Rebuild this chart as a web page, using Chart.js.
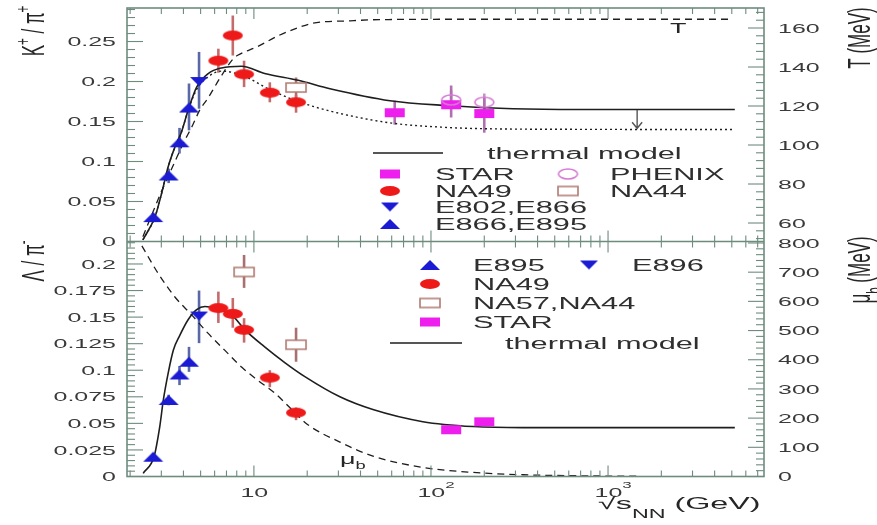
<!DOCTYPE html>
<html>
<head>
<meta charset="utf-8">
<title>K+/pi+ and Lambda/pi- vs sqrt(s_NN)</title>
<script src="https://cdn.jsdelivr.net/npm/chart.js@4.4.1/dist/chart.umd.min.js"></script>
<style>
  html, body { margin: 0; padding: 0; background: #fff; }
  canvas { display: block; }
</style>
</head>
<body>
<canvas id="chart" width="877" height="525"></canvas>
<script>
// ---- energies (sqrt(s_NN), GeV) ----
const agsS = [2.7, 3.3, 3.8, 4.3];
const agsTopS = [4.9];
const spsS = [6.3, 7.6, 8.8, 12.3, 17.3];
const na44S = [17.3];
const starKS = [62.4, 130, 200];
const phenixS = [130, 200];
const na57S = [8.8, 17.3];
const starLS = [130, 200];

// ---- upper panel: K+/pi+ ----
const kpiE866E895 = [0.0305, 0.0825, 0.124, 0.1675];
const kpiE866E895Lo = [0.026, 0.073, 0.110, 0.139];
const kpiE866E895Hi = [0.035, 0.091, 0.142, 0.1975];
const kpiE802E866 = [0.2];
const kpiE802E866Lo = [0.166];
const kpiE802E866Hi = [0.237];
const kpiNA49 = [0.226, 0.2575, 0.209, 0.186, 0.174];
const kpiNA49Lo = [0.211, 0.2325, 0.193, 0.174, 0.161];
const kpiNA49Hi = [0.241, 0.2825, 0.226, 0.199, 0.183];
const kpiNA44 = [0.1925];
const kpiNA44Lo = [0.18];
const kpiNA44Hi = [0.205];
const kpiSTAR = [0.161, 0.171, 0.16];
const kpiSTARLo = [0.146, 0.155, 0.136];
const kpiSTARHi = [0.176, 0.195, 0.18];
const kpiPHENIX = [0.177, 0.174];
const kpiPHENIXLo = [0.165, 0.163];
const kpiPHENIXHi = [0.189, 0.185];

// thermal model curves, upper panel
const kpiModelS = [2.36, 2.76, 3.01, 3.28, 3.58, 3.9, 4.25, 4.75, 5.52, 6.57, 8.52, 11.5, 17.8, 26.9, 58.7, 123, 290, 695, 5200];
const kpiModel = [0.002, 0.0305, 0.06, 0.0935, 0.118, 0.137, 0.164, 0.193, 0.21, 0.217, 0.219, 0.21, 0.2015, 0.191, 0.176, 0.17, 0.166, 0.165, 0.165];
const kpiAltS = [2.36, 2.76, 3.01, 3.28, 3.58, 3.9, 4.25, 4.75, 5.52, 6.57, 8.6, 12.3, 17.3, 27, 60, 125, 200, 500, 5200];
const kpiAlt = [0.002, 0.0305, 0.06, 0.0935, 0.118, 0.137, 0.164, 0.19, 0.206, 0.213, 0.2075, 0.19, 0.176, 0.163, 0.148, 0.1425, 0.141, 0.1403, 0.14];
const tempS = [2.36, 2.7, 3.0, 3.25, 3.6, 4.0, 4.5, 4.95, 5.5, 6.5, 7.6, 8.1, 10.5, 13.7, 18.2, 21.6, 35, 51, 200, 5000];
const tempMeV = [53, 66, 76, 83, 92, 101, 110, 118, 124, 135, 144, 146, 150.5, 156, 160.5, 162.5, 163.7, 164.3, 164.5, 164.5];
const lhcArrowS = [1460];
const lhcArrowK = [0.1645, 0.1415];

// ---- lower panel: Lambda/pi- ----
const lpiE895 = [0.0186, 0.072, 0.096, 0.108];
const lpiE895Lo = [0.0155, 0.067, 0.086, 0.0985];
const lpiE895Hi = [0.022, 0.077, 0.104, 0.122];
const lpiE896 = [0.151];
const lpiE896Lo = [0.1255];
const lpiE896Hi = [0.175];
const lpiNA49 = [0.1585, 0.153, 0.138, 0.093, 0.06];
const lpiNA49Lo = [0.1445, 0.14, 0.126, 0.084, 0.053];
const lpiNA49Hi = [0.174, 0.168, 0.149, 0.1, 0.065];
const lpiNA57 = [0.1925, 0.124];
const lpiNA57Lo = [0.1775, 0.108];
const lpiNA57Hi = [0.2085, 0.14];
const lpiSTAR = [0.044, 0.0515];

const lpiModelS = [2.37, 2.73, 2.94, 3.08, 3.28, 3.51, 3.82, 4.25, 4.75, 5.29, 6.02, 7.48, 8.9, 11.5, 15, 19.4, 30.6, 47, 90, 173, 331, 1170, 5200];
const lpiModel = [0.003, 0.0188, 0.047, 0.072, 0.0973, 0.119, 0.133, 0.1475, 0.157, 0.16, 0.1585, 0.152, 0.138, 0.122, 0.107, 0.094, 0.075, 0.063, 0.0516, 0.047, 0.046, 0.046, 0.046];
const muS = [2.33, 2.87, 3.58, 4.46, 5.5, 6.86, 8.55, 10.5, 13.1, 16.2, 19.9, 30.6, 47, 90, 173, 331, 800, 1500];
const muMeV = [790, 697, 615, 553, 491, 432, 374, 330, 286, 232, 180, 118, 70, 31, 14, 6, 2, 1];

// ---- axis ticks ----
const kpiTicks = [0, 0.05, 0.1, 0.15, 0.2, 0.25];
const kpiTickLabels = ['0', '0.05', '0.1', '0.15', '0.2', '0.25'];
const lpiTicks = [0, 0.025, 0.05, 0.075, 0.1, 0.125, 0.15, 0.175, 0.2];
const lpiTickLabels = ['0', '0.025', '0.05', '0.075', '0.1', '0.125', '0.15', '0.175', '0.2'];
const tempTicks = [60, 80, 100, 120, 140, 160];
const muTicks = [0, 100, 200, 300, 400, 500, 600, 700, 800];
const xTicks = [10, 100, 1000];
const xTickExp = ['', '2', '3'];

const FONT = '"Liberation Sans", Arial, Helvetica, sans-serif';
const SX = 1.92;
const FRAME = '#6e8c7e';
const BLUE = '#1b1bd4', RED = '#ee1a1a', MAG = '#ee1eee';

function marker(kind, w, h, fill, stroke) {
    const c = document.createElement('canvas');
    c.width = w + 4;
    c.height = h + 4;
    const g = c.getContext('2d');
    g.translate(2, 2);
    g.beginPath();
    if (kind === 'up') { g.moveTo(0, h); g.lineTo(w / 2, 0); g.lineTo(w, h); g.closePath(); }
    else if (kind === 'down') { g.moveTo(0, 0); g.lineTo(w, 0); g.lineTo(w / 2, h); g.closePath(); }
    else if (kind === 'ellipse') g.ellipse(w / 2, h / 2, w / 2, h / 2, 0, 0, Math.PI * 2);
    else g.rect(0, 0, w, h);
    if (fill) { g.fillStyle = fill; g.fill(); }
    if (stroke) { g.lineWidth = 1.6; g.strokeStyle = stroke; g.stroke(); }
    return c;
}

const mUp = marker('up', 20, 10, BLUE);
const mDown = marker('down', 18, 9, BLUE);
const mCircle = marker('ellipse', 20, 10, RED);
const mStar = marker('rect', 20, 9, MAG);
const mOpenSq = marker('rect', 20, 9, '#fff', '#b07a70');
const mOpenCirc = marker('ellipse', 19, 10, null, '#d47ad4');

function pts(xs, ys) {
    return xs.map((x, i) => ({ x: x, y: ys[i] }));
}

function scatter(label, xs, ys, axis, img, lo, hi, barColor) {
    return {
        label: label, data: pts(xs, ys), xAxisID: 'x', yAxisID: axis,
        showLine: false, pointStyle: img, pointRadius: 5,
        errLo: lo, errHi: hi, barColor: barColor
    };
}

function curve(label, xs, ys, axis, dash, width) {
    return {
        label: label, data: pts(xs, ys), xAxisID: 'x', yAxisID: axis,
        borderColor: '#1e1e1e', borderWidth: width, borderDash: dash,
        pointRadius: 0, cubicInterpolationMode: 'monotone', fill: false
    };
}

// draws text with horizontal stretch; y is the middle of the capitals
function drawRich(ctx, parts, x, y, o) {
    ctx.save();
    ctx.translate(x, y);
    if (o.rot) ctx.rotate(o.rot);
    ctx.scale(o.sx || 1, o.sy || 1);
    ctx.fillStyle = o.color || '#2f2f2f';
    ctx.textBaseline = 'alphabetic';
    ctx.textAlign = 'left';
    const small = o.small || 0.68;
    let w = 0;
    const segs = parts.map(p => {
        const size = p[1] ? o.size * small : o.size;
        ctx.font = size + 'px ' + FONT;
        const sw = ctx.measureText(p[0]).width;
        const dy = p[1] === 'sup' ? -o.size * (o.supUp || 0.45) : p[1] === 'sub' ? o.size * (o.subDown || 0.4) : 0;
        w += sw;
        return { t: p[0], size: size, w: sw, dy: dy };
    });
    let cx = o.align === 'center' ? -w / 2 : o.align === 'right' ? -w : 0;
    const base = o.size * 0.36;
    segs.forEach(s => {
        ctx.font = s.size + 'px ' + FONT;
        ctx.fillText(s.t, cx, base + s.dy);
        cx += s.w;
    });
    ctx.restore();
}

function yTicks(ctx, scale, from, to, step, every, x0, dir) {
    const n = Math.round((to - from) / step);
    const k0 = Math.round(from / step);
    for (let i = 0; i <= n; i++) {
        const py = scale.getPixelForValue(from + i * step);
        const len = (k0 + i) % every === 0 ? 16 : 8;
        ctx.beginPath();
        ctx.moveTo(x0, py);
        ctx.lineTo(x0 + dir * len, py);
        ctx.stroke();
    }
}

const errorBars = {
    id: 'errorBars',
    beforeDatasetsDraw(chart) {
        const ctx = chart.ctx;
        const xs = chart.scales.x;
        chart.data.datasets.forEach(ds => {
            if (!ds.errLo) return;
            const ys = chart.scales[ds.yAxisID];
            ctx.save();
            ctx.strokeStyle = ds.barColor;
            ctx.lineWidth = 2.6;
            ds.data.forEach((p, i) => {
                const px = xs.getPixelForValue(p.x);
                ctx.beginPath();
                ctx.moveTo(px, ys.getPixelForValue(ds.errLo[i]));
                ctx.lineTo(px, ys.getPixelForValue(ds.errHi[i]));
                ctx.stroke();
            });
            ctx.restore();
        });
    }
};

function legendLine(ctx, x1, x2, y) {
    ctx.save();
    ctx.strokeStyle = '#1e1e1e';
    ctx.lineWidth = 1.6;
    ctx.beginPath();
    ctx.moveTo(x1, y);
    ctx.lineTo(x2, y);
    ctx.stroke();
    ctx.restore();
}

function legendItem(ctx, img, mx, my, text, tx) {
    ctx.drawImage(img, mx - img.width / 2, my - img.height / 2);
    drawRich(ctx, [[text]], tx, my, { size: 16, sx: SX });
}

const frameAndText = {
    id: 'frameAndText',
    afterDatasetsDraw(chart) {
        const { ctx, chartArea: a, scales } = chart;
        const sx = scales.x;
        const mid = scales.yK.getPixelForValue(0);
        ctx.save();
        ctx.strokeStyle = FRAME;
        ctx.lineWidth = 1.6;
        ctx.strokeRect(a.left, a.top, a.right - a.left, a.bottom - a.top);
        ctx.beginPath();
        ctx.moveTo(a.left, mid);
        ctx.lineTo(a.right, mid);
        ctx.stroke();

        ctx.lineWidth = 1.1;
        yTicks(ctx, scales.yK, 0, 0.29, 0.01, 5, a.left, 1);
        yTicks(ctx, scales.yL, 0, 0.22, 0.005, 5, a.left, 1);
        yTicks(ctx, scales.yT, 52, 168, 4, 5, a.right, -1);
        yTicks(ctx, scales.yM, 0, 800, 20, 5, a.right, -1);

        for (let d = 1; d <= 1000; d *= 10) {
            for (let m = 1; m <= 9; m++) {
                const v = m * d;
                if (v < sx.min || v > sx.max) continue;
                const px = sx.getPixelForValue(v);
                const len = m === 1 ? 11 : 6;
                ctx.beginPath();
                ctx.moveTo(px, a.top); ctx.lineTo(px, a.top + len);
                ctx.moveTo(px, mid - len); ctx.lineTo(px, mid + len);
                ctx.moveTo(px, a.bottom); ctx.lineTo(px, a.bottom - len);
                ctx.stroke();
            }
        }

        // downward arrow towards LHC
        const ax = sx.getPixelForValue(lhcArrowS[0]);
        const ay1 = scales.yK.getPixelForValue(lhcArrowK[0]);
        const ay2 = scales.yK.getPixelForValue(lhcArrowK[1]);
        ctx.strokeStyle = '#555';
        ctx.lineWidth = 1.4;
        ctx.beginPath();
        ctx.moveTo(ax, ay1); ctx.lineTo(ax, ay2);
        ctx.moveTo(ax - 5, ay2 - 6); ctx.lineTo(ax, ay2); ctx.lineTo(ax + 5, ay2 - 6);
        ctx.stroke();
        ctx.restore();
    },
    afterDraw(chart) {
        const { ctx, chartArea: a, scales } = chart;
        const tick = { size: 13, sx: SX, color: '#3a3a3a' };

        kpiTicks.forEach((v, i) => drawRich(ctx, [[kpiTickLabels[i]]], a.left - 11, scales.yK.getPixelForValue(v), Object.assign({ align: 'right' }, tick)));
        lpiTicks.forEach((v, i) => drawRich(ctx, [[lpiTickLabels[i]]], a.left - 11, scales.yL.getPixelForValue(v), Object.assign({ align: 'right' }, tick)));
        tempTicks.forEach(v => drawRich(ctx, [[String(v)]], a.right + 14, scales.yT.getPixelForValue(v), tick));
        muTicks.forEach(v => drawRich(ctx, [[String(v)]], a.right + 14, scales.yM.getPixelForValue(v), tick));
        xTicks.forEach((v, i) => {
            const px = scales.x.getPixelForValue(v);
            const parts = xTickExp[i] ? [['10'], [xTickExp[i], 'sup']] : [['10']];
            drawRich(ctx, parts, px - 13.5, 492, Object.assign({ supUp: 0.7 }, tick));
        });

        // axis titles
        const title = { size: 17, sx: 1.0, sy: 1.8, rot: -Math.PI / 2, align: 'center', color: '#262626' };
        drawRich(ctx, [['K'], ['+', 'sup'], [' / '], ['π'], ['+', 'sup']], 33, 31, title);
        drawRich(ctx, [['Λ'], [' / '], ['π'], ['-', 'sup']], 33, 261, title);
        drawRich(ctx, [['T (MeV)']], 859, 38, title);
        drawRich(ctx, [['μ'], ['b', 'sub'], [' (MeV)']], 859, 270, Object.assign({ subDown: 0.35 }, title));
        drawRich(ctx, [['√s'], ['NN', 'sub'], [' (GeV)']], 598, 503, { size: 17, sx: 1.9, color: '#262626', small: 0.72, subDown: 0.5 });

        // curve labels
        drawRich(ctx, [['T']], 670, 28, { size: 15, sx: 1.8, color: '#262626' });
        drawRich(ctx, [['μ'], ['b', 'sub']], 340, 459, { size: 15, sx: 1.8, color: '#262626', subDown: 0.3 });

        // upper legend
        legendLine(ctx, 373, 443, 153);
        drawRich(ctx, [['thermal model']], 487, 153, { size: 16, sx: SX });
        legendItem(ctx, mStar, 390, 174, 'STAR', 435);
        legendItem(ctx, mOpenCirc, 568, 174, 'PHENIX', 610);
        legendItem(ctx, mCircle, 390, 191, 'NA49', 435);
        legendItem(ctx, mOpenSq, 568, 191, 'NA44', 610);
        legendItem(ctx, mDown, 390, 207, 'E802,E866', 435);
        legendItem(ctx, mUp, 390, 224, 'E866,E895', 435);

        // lower legend
        legendItem(ctx, mUp, 430, 265, 'E895', 473);
        legendItem(ctx, mDown, 589, 265, 'E896', 632);
        legendItem(ctx, mCircle, 430, 284, 'NA49', 473);
        legendItem(ctx, mOpenSq, 430, 303, 'NA57,NA44', 473);
        legendItem(ctx, mStar, 430, 322, 'STAR', 473);
        legendLine(ctx, 390, 462, 343);
        drawRich(ctx, [['thermal model']], 505, 343, { size: 16, sx: SX });
    }
};

const datasets = [
    // markers (listed first so they are drawn on top)
    scatter('PHENIX', phenixS, kpiPHENIX, 'yK', mOpenCirc, kpiPHENIXLo, kpiPHENIXHi, '#c890c8'),
    scatter('STAR', starKS, kpiSTAR, 'yK', mStar, kpiSTARLo, kpiSTARHi, '#b070b0'),
    scatter('NA44', na44S, kpiNA44, 'yK', mOpenSq, kpiNA44Lo, kpiNA44Hi, '#a87070'),
    scatter('NA49', spsS, kpiNA49, 'yK', mCircle, kpiNA49Lo, kpiNA49Hi, '#c46c6c'),
    scatter('E802,E866', agsTopS, kpiE802E866, 'yK', mDown, kpiE802E866Lo, kpiE802E866Hi, '#5a68a8'),
    scatter('E866,E895', agsS, kpiE866E895, 'yK', mUp, kpiE866E895Lo, kpiE866E895Hi, '#5a68a8'),
    scatter('STAR ', starLS, lpiSTAR, 'yL', mStar),
    scatter('NA57,NA44', na57S, lpiNA57, 'yL', mOpenSq, lpiNA57Lo, lpiNA57Hi, '#a87070'),
    scatter('NA49 ', spsS, lpiNA49, 'yL', mCircle, lpiNA49Lo, lpiNA49Hi, '#c46c6c'),
    scatter('E896', agsTopS, lpiE896, 'yL', mDown, lpiE896Lo, lpiE896Hi, '#5a68a8'),
    scatter('E895', agsS, lpiE895, 'yL', mUp, lpiE895Lo, lpiE895Hi, '#5a68a8'),
    // model curves
    curve('thermal model K+/pi+', kpiModelS, kpiModel, 'yK', [], 1.6),
    curve('K+/pi+ (alt.)', kpiAltS, kpiAlt, 'yK', [2, 3], 1.4),
    curve('T', tempS, tempMeV, 'yT', [7, 5], 1.3),
    curve('thermal model Lambda/pi-', lpiModelS, lpiModel, 'yL', [], 1.6),
    curve('mu_b', muS, muMeV, 'yM', [7, 5], 1.3)
];

new Chart(document.getElementById('chart'), {
    type: 'line',
    data: { datasets: datasets },
    options: {
        responsive: false,
        animation: false,
        events: [],
        layout: { padding: { left: 127, right: 113, top: 8, bottom: 48.5 } },
        scales: {
            x: { type: 'logarithmic', min: 1.92, max: 7600, display: false },
            yK: { type: 'linear', min: -0.2938, max: 0.2919, display: false },
            yT: { type: 'linear', min: -70, max: 170.26, display: false },
            yL: { type: 'linear', min: 0, max: 0.4409, display: false },
            yM: { type: 'linear', min: 0, max: 1605, display: false }
        },
        plugins: {
            legend: { display: false },
            tooltip: { enabled: false }
        }
    },
    plugins: [errorBars, frameAndText]
});
</script>
</body>
</html>
